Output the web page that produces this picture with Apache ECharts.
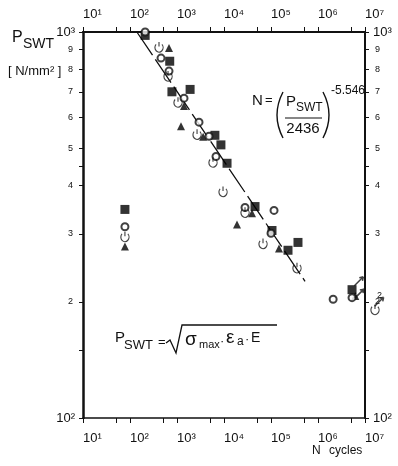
<!DOCTYPE html>
<html><head><meta charset="utf-8">
<script src="https://cdn.jsdelivr.net/npm/echarts@6/dist/echarts.min.js"></script>
<style>html,body{margin:0;padding:0;background:#fff}#c{width:398px;height:466px}</style>
</head><body><div id="c"></div>
<script>
// ---- data (N cycles, P_SWT in N/mm^2) ----
const xTickValues = [10,50,100,500,1000,5000,1e4,5e4,1e5,5e5,1e6,5e6,1e7];
const xLabelValues = [10,100,1000,1e4,1e5,1e6,1e7];
const yTickValues = [100,150,200,300,400,450,500,600,700,800,900,1000];
const yLabelValues = [100,200,300,400,500,600,700,800,900,1000];

const squares = [[210,980],[700,840],[780,700],[1900,710],[6400,540],[8600,510],[11600,457],[45700,353],[105000,306],[230000,272],[375000,285],[5.3e6,215],[78,347]];
const triangles = [[676,909],[1410,643],[1216,570],[3600,535],[39400,339],[18900,317],[148000,275],[78,278],[6.2e6,207]];
const circles = [[210,1000],[457,856],[1410,674],[2940,584],[4800,537],[6760,476],[676,792],[28000,351],[116000,345],[100000,301],[5.3e6,205],[2.1e6,203],[78,313]];
const tickCircles = [[414,914],[644,769],[1050,658],[2670,543],[5830,460],[9530,386],[28000,341],[67600,283],[357000,245],[78,295],[1.63e7,191]];
const fitLine = [[140,1000],[530000,226]];
const runouts = [[7.4e6,226],[7.6e6,210],[2.0e7,200]];

const SUP = {1:'\u00b9',2:'\u00b2',3:'\u00b3',4:'\u2074',5:'\u2075',6:'\u2076',7:'\u2077'};
const FF = "'Liberation Sans', 'DejaVu Sans', Arial, sans-serif";
function p10(v){ return '10' + SUP[Math.round(Math.log10(v))]; }

const chart = echarts.init(document.getElementById('c'), null, {renderer:'canvas'});

function xAxisDef(pos, lw, margin){
  return {
    type:'log', logBase:10, min:10, max:1e7, position:pos,
    axisLine:{show:true, onZero:false, lineStyle:{color:'#111', width:lw}},
    axisTick:{show:true, inside:false, length:5, customValues:xTickValues, lineStyle:{color:'#111', width:1}},
    axisLabel:{show:true, customValues:xLabelValues, margin:margin, align:'left',
      formatter:v=>p10(v), color:'#111', fontFamily:FF, fontSize:13},
    splitLine:{show:false}, minorTick:{show:false}
  };
}
function yAxisDef(pos, lw){
  return {
    type:'log', logBase:10, min:100, max:1000, position:pos,
    axisLine:{show:true, onZero:false, lineStyle:{color:'#111', width:lw}},
    axisTick:{show:true, inside:false, length:4, customValues:yTickValues, lineStyle:{color:'#111', width:1}},
    axisLabel:{show:true, customValues:yLabelValues, margin:8, color:'#111', fontFamily:FF,
      formatter:v=>{ const r=Math.round(v); return (r===100||r===1000)? '{m|'+p10(r)+'}' : '{n|'+Math.round(r/100)+'}'; },
      rich:{m:{fontSize:13, fontFamily:FF, color:'#111'}, n:{fontSize:9, fontFamily:FF, color:'#111', padding:[0,2,0,2]}}},
    splitLine:{show:false}, minorTick:{show:false}
  };
}

function txt(t, x, y, size, extra){
  return Object.assign({type:'text', x:x, y:y, silent:true,
    style:Object.assign({text:t, font:size+'px '+FF, fill:'#111', align:'left', verticalAlign:'middle', textAlign:'left', textVerticalAlign:'middle'}, extra||{})});
}
function curve(x1,y1,cx,cy,x2,y2){
  return {type:'bezierCurve', silent:true, shape:{x1:x1,y1:y1,cpx1:cx,cpy1:cy,x2:x2,y2:y2}, style:{stroke:'#111', fill:null, lineWidth:1.4}};
}

const tickCirclePath = 'path://M2.14,3.2A4,4,0,1,0,7.86,3.2M5,1.2L5,5.2';
const arrowPath = 'path://M0,10L10,0M10,0L5.5,1M10,0L9,4.5';

const option = {
  animation:false,
  backgroundColor:'#fff',
  grid:{left:83, right:33, top:32, bottom:48, containLabel:false},
  xAxis:[xAxisDef('bottom',1.5,14), xAxisDef('top',2,11)],
  yAxis:[yAxisDef('left',2.5), yAxisDef('right',2)],
  series:[
    {type:'line', data:fitLine, symbol:'none', lineStyle:{color:'#111', width:1.3, type:[28,5]}, z:1},
    {type:'scatter', data:squares, symbol:'rect', symbolSize:9, clip:false, itemStyle:{color:'#000'}, z:3},
    {type:'scatter', data:triangles, symbol:'triangle', symbolSize:8, clip:false, itemStyle:{color:'#000'}, z:3},
    {type:'scatter', data:circles, symbol:'emptyCircle', symbolSize:7, clip:false, itemStyle:{color:'#111', borderColor:'#111', borderWidth:1.2}, z:4},
    {type:'scatter', data:tickCircles, symbol:tickCirclePath, symbolSize:[9,10], symbolKeepAspect:true, clip:false,
      itemStyle:{color:'rgba(0,0,0,0)', borderColor:'#111', borderWidth:1.2}, z:4},
    {type:'scatter', data:runouts, symbol:arrowPath, symbolSize:9, clip:false,
      itemStyle:{color:'rgba(0,0,0,0)', borderColor:'#111', borderWidth:1.5}, z:4}
  ],
  graphic:[
    // y-axis title
    txt('P', 12, 38, 16), txt('SWT', 23, 44, 14),
    txt('[ N/mm\u00b2 ]', 8, 71, 13),
    // x-axis title
    txt('N', 312, 451, 12), txt('cycles', 329, 451, 12),
    // regression formula
    txt('N', 252, 101, 15), txt('=', 265, 100, 13),
    curve(283,92,271,115,283,138),
    txt('P', 286, 102, 15), txt('SWT', 296, 108, 12),
    {type:'line', silent:true, shape:{x1:285,y1:118,x2:322,y2:118}, style:{stroke:'#111', lineWidth:1.2}},
    txt('2436', 303, 129, 15, {align:'center', textAlign:'center'}),
    curve(323,92,335,115,323,138),
    txt('-5.546', 331, 91, 12),
    // P_SWT definition
    txt('P', 115, 338, 15), txt('SWT', 124, 345, 13),
    txt('=', 158, 342, 13),
    {type:'polyline', silent:true, shape:{points:[[166,343],[170,340],[176,353],[182,325],[277,325]]}, style:{stroke:'#111', fill:null, lineWidth:1.3}},
    txt('\u03c3', 185, 340, 19), txt('max', 199, 345, 11),
    txt('\u00b7', 220, 341, 13),
    txt('\u03b5', 226, 338, 19), txt('a', 237, 342, 12),
    txt('\u00b7', 245, 339, 13),
    txt('E', 251, 338, 14),
    // runout count
    txt('2', 377, 296, 9)
  ]
};
chart.setOption(option);
</script></body></html>
